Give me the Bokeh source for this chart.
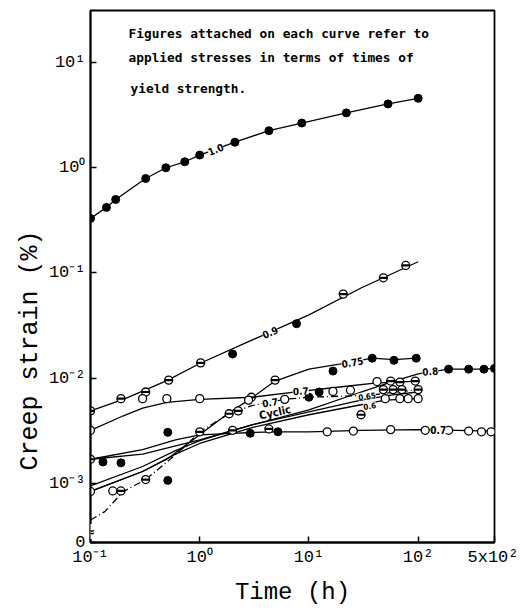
import math
from bokeh.plotting import figure
from bokeh.models import Label, FixedTicker, Title
from bokeh.embed import file_html
from bokeh.resources import INLINE

# ---------------- axes / ticks ----------------
Y_ZERO = 2.75e-4
x_ticks = [0.1, 1, 10, 100, 500]
x_tick_labels = ["10⁻¹", "10⁰", "10¹", "10²", "5x10²"]
y_ticks = [Y_ZERO, 1e-3, 1e-2, 1e-1, 1, 10]
y_tick_labels = ["0", "10⁻³", "10⁻²", "10⁻¹", "10⁰", "10¹"]

# ---------------- 1.0 ----------------
t10 = [0.1, 0.14, 0.17, 0.32, 0.49, 0.73, 1.0, 2.1, 4.3, 8.6, 22, 53, 100]
e10 = [0.33, 0.42, 0.50, 0.79, 1.0, 1.14, 1.32, 1.75, 2.25, 2.66, 3.32, 4.04, 4.57]

# ---------------- 0.9 ----------------
t09_line = [0.1, 0.2, 0.5, 1, 3, 10, 30, 100]
e09_line = [0.0049, 0.0063, 0.0095, 0.0138, 0.023, 0.040, 0.072, 0.128]
t09_half = [0.1, 0.19, 0.32, 0.52, 1.02, 20.6, 48, 77]
e09_half = [0.0049, 0.0064, 0.0074, 0.0096, 0.014, 0.063, 0.090, 0.118]
t09_full = [2.0, 7.7]
e09_full = [0.017, 0.033]

# ---------------- 0.75 ----------------
t075_line = [0.1, 0.3, 0.5, 1, 1.8, 2.8, 4.9, 10, 19, 38, 60, 96]
e075_line = [8.4e-4, 1.3e-3, 1.7e-3, 2.9e-3, 4.6e-3, 6.2e-3, 9.4e-3, 0.0122, 0.0136, 0.0155, 0.0150, 0.0155]
t075_full = [0.51, 16.6, 38, 60, 96]
e075_full = [1.07e-3, 0.0117, 0.0155, 0.0148, 0.0155]
t075_half = [2.97, 4.9]
e075_half = [6.6e-3, 9.6e-3]

# ---------------- 0.8 ----------------
t08_line = [0.1, 0.3, 1, 3, 10, 30, 60, 100, 190, 290, 400, 500]
e08_line = [1.7e-3, 1.9e-3, 2.6e-3, 3.6e-3, 5.0e-3, 7.4e-3, 9.4e-3, 0.0110, 0.0122, 0.0122, 0.0122, 0.0124]
t08_full = [0.13, 0.19, 190, 290, 400, 500]
e08_full = [1.6e-3, 1.57e-3, 0.0122, 0.0122, 0.0122, 0.0124]
t08_half = [0.1]
e08_half = [1.7e-3]

# ---------------- 0.7 (upper, static) ----------------
t07u_line = [0.1, 0.2, 0.3, 0.5, 1, 3, 8.4, 20, 40, 100]
e07u_line = [3.2e-3, 4.4e-3, 5.2e-3, 5.9e-3, 6.3e-3, 6.6e-3, 7.5e-3, 8.3e-3, 9.0e-3, 9.4e-3]
t07u_open = [0.1, 0.3, 0.5, 1.0, 2.8, 16.6, 24, 42]
e07u_open = [3.2e-3, 6.4e-3, 6.4e-3, 6.4e-3, 6.2e-3, 7.5e-3, 7.7e-3, 9.3e-3]
t07u_full = [12.4]
e07u_full = [7.4e-3]
t07u_half = [56, 68, 94]
e07u_half = [9.4e-3, 9.2e-3, 9.4e-3]

# ---------------- 0.7 cyclic ----------------
tcy_line = [0.1, 0.135, 0.2, 0.32, 0.5, 0.77, 1, 1.86, 3, 6, 10, 36, 100]
ecy_line = [4.5e-4, 5.4e-4, 8.4e-4, 1.09e-3, 1.6e-3, 2.35e-3, 3.1e-3, 4.6e-3, 5.5e-3, 6.3e-3, 6.6e-3, 6.9e-3, 7.8e-3]
tcy_open = [0.16, 6]
ecy_open = [8.5e-4, 6.3e-3]
tcy_half = [0.19, 0.32, 1.86, 2.25, 48, 59, 71, 100]
ecy_half = [8.5e-4, 1.09e-3, 4.6e-3, 4.9e-3, 7.8e-3, 7.8e-3, 7.8e-3, 7.8e-3]
tcy_full = [10]
ecy_full = [6.6e-3]

# ---------------- 0.6 ----------------
t06_line = [0.1, 0.3, 0.6, 1, 3, 10, 30, 50, 100]
e06_line = [8.4e-4, 1.3e-3, 1.9e-3, 2.4e-3, 3.4e-3, 4.5e-3, 5.6e-3, 6.2e-3, 6.4e-3]
t06_open = [0.1, 50, 68, 81, 100]
e06_open = [8.4e-4, 6.4e-3, 6.4e-3, 6.4e-3, 6.4e-3]
t06_half = [30]
e06_half = [4.5e-3]

# ---------------- 0.65 ----------------
t065_line = [0.1, 0.3, 0.6, 1, 3, 10, 30, 60, 100]
e065_line = [9.5e-4, 1.45e-3, 2.05e-3, 2.55e-3, 3.6e-3, 4.8e-3, 6.2e-3, 7.0e-3, 7.4e-3]

# ---------------- 0.7 (lower) ----------------
t07b_line = [0.1, 0.3, 0.6, 1, 2, 3, 5, 10, 30, 100, 500]
e07b_line = [1.7e-3, 2.1e-3, 2.6e-3, 2.9e-3, 3.0e-3, 3.05e-3, 3.1e-3, 3.1e-3, 3.2e-3, 3.25e-3, 3.15e-3]
t07b_open = [14.7, 25.5, 56, 116, 190, 290, 380, 465]
e07b_open = [3.1e-3, 3.15e-3, 3.25e-3, 3.2e-3, 3.2e-3, 3.15e-3, 3.1e-3, 3.1e-3]
t07b_full = [0.51, 2.9, 5.2]
e07b_full = [3.06e-3, 3.0e-3, 3.1e-3]
t07b_half = [1.0, 2.0, 4.3]
e07b_half = [3.1e-3, 3.2e-3, 3.3e-3]

note_lines = ["Figures attached on each curve refer to",
              "applied stresses in terms of times of",
              "yield strength."]

# ---------------- figure ----------------
p = figure(x_axis_type="log", y_axis_type="log",
           x_range=(0.1, 500), y_range=(Y_ZERO, 31.2),
           frame_width=404, frame_height=532,
           min_border_left=90, min_border_right=24, min_border_top=10, min_border_bottom=62,
           output_backend="svg", toolbar_location=None)
p.grid.visible = False
p.outline_line_color = "black"
p.outline_line_width = 1.8
p.background_fill_color = "white"
p.border_fill_color = "white"

MONO = "Liberation Mono"
for ax in (p.xaxis[0], p.yaxis[0]):
    ax.major_tick_in = 6
    ax.major_tick_out = 0
    ax.minor_tick_line_color = None
    ax.axis_line_width = 1.8
    ax.major_tick_line_width = 1.5
    ax.major_label_text_font = MONO
    ax.major_label_text_font_size = "17px"
    ax.major_label_text_color = "black"

p.xaxis.ticker = FixedTicker(ticks=x_ticks)
p.xaxis.major_label_overrides = dict(zip(x_ticks, x_tick_labels))
p.yaxis.ticker = FixedTicker(ticks=y_ticks)
p.yaxis.major_label_overrides = dict(zip(y_ticks, y_tick_labels))

p.xaxis.axis_label = "Time (h)"
p.xaxis.axis_label_text_font = MONO
p.xaxis.axis_label_text_font_size = "24px"
p.xaxis.axis_label_text_font_style = "normal"
p.xaxis.axis_label_text_color = "black"
p.xaxis.axis_label_standoff = 9

p.add_layout(Title(text="Creep strain (%)", align="left", offset=72,
                   text_font=MONO, text_font_size="25px", text_font_style="normal",
                   text_color="black", standoff=2), "left")

LW = 1.3
MS = 8


def curve(t, e, dash="solid"):
    p.line(t, e, line_color="black", line_width=LW, line_dash=dash)


def full(t, e):
    p.scatter(t, e, marker="circle", size=MS, fill_color="black", line_color="black")


def hollow(t, e):
    p.scatter(t, e, marker="circle", size=MS, fill_color="white", line_color="black", line_width=1.3)


def half(t, e):
    p.scatter(t, e, marker="circle", size=MS, fill_color="white", line_color="black", line_width=1.3)
    p.scatter(t, e, marker="dash", size=MS, line_color="black", line_width=2.2)


def tag(x, y, text, deg=0.0, size="10px", bg=True):
    p.add_layout(Label(x=x, y=y, text=text, angle=math.radians(deg),
                       text_font="DejaVu Sans Condensed", text_font_size=size,
                       text_font_style="bold", text_color="black",
                       text_align="center", text_baseline="middle",
                       background_fill_color="white" if bg else None,
                       background_fill_alpha=1.0 if bg else 0.0))


curve(t10, e10)
curve(t09_line, e09_line)
curve(t075_line, e075_line)
curve(t08_line, e08_line)
curve(t07u_line, e07u_line)
curve(tcy_line, ecy_line, dash="7 3 1 3")
curve(t06_line, e06_line)
curve(t065_line, e065_line)
curve(t07b_line, e07b_line)

full(t10, e10)
half(t09_half, e09_half); full(t09_full, e09_full)
full(t075_full, e075_full); half(t075_half, e075_half)
full(t08_full, e08_full); half(t08_half, e08_half)
hollow(t07u_open, e07u_open); full(t07u_full, e07u_full); half(t07u_half, e07u_half)
hollow(tcy_open, ecy_open); half(tcy_half, ecy_half); full(tcy_full, ecy_full)
hollow(t06_open, e06_open); half(t06_half, e06_half)
hollow(t07b_open, e07b_open); full(t07b_full, e07b_full); half(t07b_half, e07b_half)

tag(1.4, 1.50, "1.0", 22)
tag(4.4, 0.0274, "0.9", 23)
tag(25, 0.0142, "0.75", 10)
tag(129, 0.0117, "0.8", 4)
tag(8.4, 7.6e-3, "0.7", 3)
tag(4.4, 5.9e-3, "0.7", 8)
tag(4.9, 4.7e-3, "Cyclic", 12, size="11px", bg=False)
tag(34, 6.8e-3, "0.65", 8, size="8px")
tag(36, 5.5e-3, "0.6", 8, size="8px")
tag(153, 3.25e-3, "0.7", 0)
tag(0.1, 3.5e-4, "≈", 0, size="13px")

for txt, xx, yy in zip(note_lines, [0.223, 0.223, 0.233], [18.9, 11.2, 5.66]):
    p.add_layout(Label(x=xx, y=yy, text=txt, text_font="DejaVu Sans Mono",
                       text_font_size="12.8px", text_font_style="bold", text_color="black",
                       text_align="left", text_baseline="middle"))

open("out.html", "w").write(file_html(p, INLINE))
